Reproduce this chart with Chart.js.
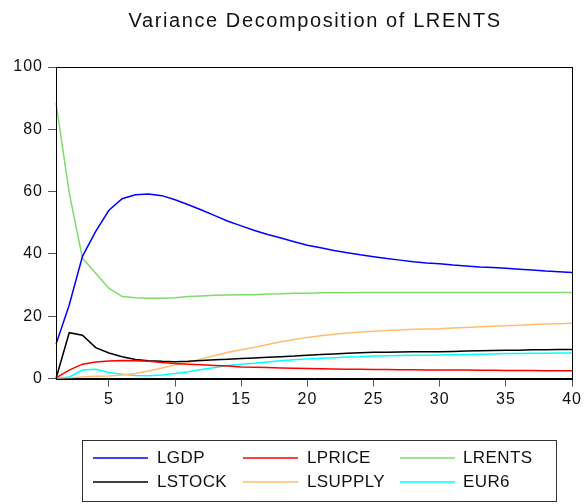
<!DOCTYPE html>
<html>
<head>
<meta charset="utf-8">
<script src="https://cdn.jsdelivr.net/npm/chart.js@4"></script>
<style>
  html, body { margin: 0; padding: 0; background: #fff; }
  #wrap { width: 584px; height: 504px; }
</style>
</head>
<body>
<div id="wrap"><canvas id="grafico" width="584" height="504"></canvas></div>
<script>
const periodos = [];
for (let i = 1; i <= 40; i++) periodos.push(String(i));

const lgdp = [11.0, 23.6, 39.2, 47.2, 54.0, 57.7, 59.0, 59.2, 58.7, 57.4,
    55.8, 54.1, 52.3, 50.5, 49.0, 47.5, 46.2, 45.1, 43.9, 42.8,
    42.0, 41.1, 40.4, 39.7, 39.1, 38.5, 38.0, 37.5, 37.1, 36.8,
    36.4, 36.1, 35.8, 35.6, 35.4, 35.1, 34.8, 34.5, 34.3, 34.0];
const lprice = [0.2, 2.7, 4.6, 5.3, 5.6, 5.8, 5.7, 5.5, 5.1, 4.8,
    4.6, 4.4, 4.2, 4.0, 3.7, 3.6, 3.5, 3.4, 3.3, 3.2,
    3.1, 3.05, 3.0, 2.95, 2.9, 2.85, 2.8, 2.8, 2.75, 2.75,
    2.7, 2.7, 2.65, 2.65, 2.6, 2.6, 2.55, 2.5, 2.5, 2.45];
const lrents = [88.5, 59.6, 38.6, 33.8, 29.0, 26.3, 25.9, 25.8, 25.8, 25.9,
    26.3, 26.5, 26.7, 26.8, 26.9, 26.9, 27.1, 27.2, 27.4, 27.4,
    27.5, 27.5, 27.5, 27.6, 27.6, 27.6, 27.6, 27.6, 27.6, 27.6,
    27.6, 27.6, 27.6, 27.6, 27.6, 27.6, 27.6, 27.6, 27.6, 27.6];
const lstock = [0.0, 14.7, 13.9, 9.9, 8.2, 7.0, 6.1, 5.7, 5.5, 5.4,
    5.5, 5.8, 6.0, 6.2, 6.4, 6.6, 6.8, 7.0, 7.2, 7.5,
    7.7, 7.9, 8.1, 8.3, 8.4, 8.45, 8.5, 8.55, 8.6, 8.6,
    8.7, 8.8, 8.9, 9.0, 9.1, 9.1, 9.2, 9.2, 9.3, 9.3];
const lsupply = [0.0, 0.2, 0.5, 0.7, 0.8, 1.1, 1.6, 2.4, 3.4, 4.3,
    5.2, 6.3, 7.4, 8.4, 9.2, 10.0, 10.9, 11.8, 12.5, 13.2,
    13.7, 14.2, 14.6, 14.9, 15.2, 15.4, 15.6, 15.8, 15.9, 16.0,
    16.2, 16.4, 16.6, 16.8, 16.9, 17.1, 17.3, 17.5, 17.6, 17.7];
const eur6 = [0.0, 0.5, 2.7, 3.0, 1.9, 1.4, 1.0, 0.9, 1.1, 1.6,
    2.2, 2.9, 3.5, 4.2, 4.6, 4.9, 5.3, 5.7, 6.0, 6.3,
    6.5, 6.7, 6.9, 7.0, 7.2, 7.3, 7.4, 7.45, 7.5, 7.55,
    7.6, 7.7, 7.8, 7.9, 8.0, 8.0, 8.1, 8.1, 8.2, 8.2];
const yTicks = [0, 20, 40, 60, 80, 100];

const fonte = '"Liberation Sans", Arial, sans-serif';

function serie(label, data, cor) {
    return {
        label: label,
        data: data,
        borderColor: cor,
        backgroundColor: cor,
        borderWidth: 1.5,
        pointRadius: 0,
        tension: 0,
        fill: false
    };
}

// moldura, titulo e legenda no estilo EViews
const molduraPlugin = {
    id: 'moldura',
    beforeDraw(chart) {
        // texto do EViews e um pouco mais espacado
        chart.ctx.letterSpacing = '1px';
    },
    afterDraw(chart) {
        const c = chart.ctx;
        const a = chart.chartArea;
        c.save();
        c.letterSpacing = '0px';
        c.strokeStyle = '#000';
        c.lineWidth = 1;
        c.strokeRect(Math.round(a.left) + 0.5, Math.round(a.top) + 0.5,
            Math.round(a.right - a.left), Math.round(a.bottom - a.top));

        c.fillStyle = '#111';
        c.font = '20px ' + fonte;
        c.letterSpacing = '1.6px';
        c.textAlign = 'center';
        c.textBaseline = 'middle';
        c.fillText('Variance Decomposition of LRENTS', (a.left + a.right) / 2 + 1, 21);

        // legenda
        c.letterSpacing = '0.4px';
        c.strokeStyle = '#333';
        c.strokeRect(82.5, 440.5, 474, 61);
        const colLinha = [93, 243, 400];
        const colTexto = [157, 307, 463];
        const linhas = [458, 482];
        c.font = '17px ' + fonte;
        c.textAlign = 'left';
        chart.data.datasets.forEach((ds, i) => {
            const col = i % 3;
            const row = Math.floor(i / 3);
            const y = linhas[row];
            c.strokeStyle = ds.borderColor;
            c.lineWidth = 1.5;
            c.beginPath();
            c.moveTo(colLinha[col], y);
            c.lineTo(colLinha[col] + 55, y);
            c.stroke();
            c.fillStyle = '#111';
            c.fillText(ds.label, colTexto[col], y);
        });
        c.restore();
    }
};

const ctx = document.getElementById('grafico').getContext('2d');

const grafico = new Chart(ctx, {
    type: 'line',
    data: {
        labels: periodos,
        datasets: [
            serie('LGDP', lgdp, '#0000FF'),
            serie('LPRICE', lprice, '#FF0000'),
            serie('LRENTS', lrents, '#7FDB6E'),
            serie('LSTOCK', lstock, '#000000'),
            serie('LSUPPLY', lsupply, '#FFBD6E'),
            serie('EUR6', eur6, '#00FFFF')
        ]
    },
    options: {
        responsive: false,
        animation: false,
        layout: {
            padding: { top: 67, right: 10, bottom: 0, left: 0 }
        },
        plugins: {
            legend: { display: false },
            title: { display: false },
            tooltip: { enabled: false }
        },
        scales: {
            x: {
                type: 'category',
                offset: false,
                afterFit: (s) => { s.height = 125.5; },
                border: { display: true, color: '#000', width: 1 },
                grid: {
                    drawOnChartArea: false,
                    drawTicks: true,
                    tickLength: 8,
                    tickColor: (c) => ((c.index + 1) % 5 === 0 ? '#555' : 'rgba(0,0,0,0)')
                },
                ticks: {
                    autoSkip: false,
                    maxRotation: 0,
                    padding: 3,
                    color: '#111',
                    font: { family: fonte, size: 16 },
                    callback: function (value, index) {
                        const p = Number(this.getLabelForValue(value));
                        return p % 5 === 0 ? String(p) : '';
                    }
                }
            },
            y: {
                min: 0,
                max: 100,
                afterFit: (s) => { s.width = 56; },
                afterBuildTicks: (s) => { s.ticks = yTicks.map(v => ({ value: v })); },
                border: { display: true, color: '#000', width: 1 },
                grid: {
                    drawOnChartArea: false,
                    drawTicks: true,
                    tickLength: 8,
                    tickColor: '#555'
                },
                ticks: {
                    padding: 5,
                    color: '#111',
                    font: { family: fonte, size: 16 }
                }
            }
        }
    },
    plugins: [molduraPlugin]
});
</script>
</body>
</html>
